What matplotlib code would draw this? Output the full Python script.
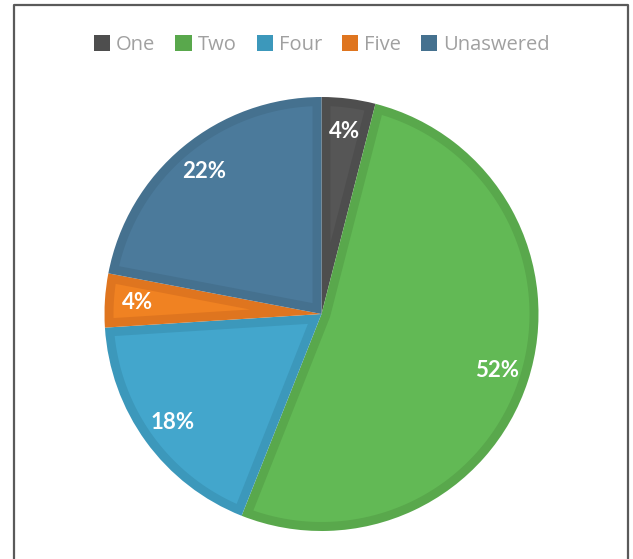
import numpy as np
import matplotlib
matplotlib.use("Agg")
import matplotlib.pyplot as plt
from matplotlib.patches import Patch, Polygon
from matplotlib.lines import Line2D

# data
labels = ["One", "Two", "Four", "Five", "Unaswered"]
shares = [4, 52, 18, 4, 22]
fill_colors = ["#565656", "#62b955", "#43a6cc", "#f08222", "#4b7a9b"]
edge_colors = ["#4e4e4e", "#59a84c", "#3c98bb", "#df751f", "#45718f"]

W, H = 633, 559
fig = plt.figure(figsize=(W / 100, H / 100), dpi=100)

# pie axes: centre ~ (321.5, 314) px, radius ~217 px
cx, cy, r = 321.5, 314, 217
ax = fig.add_axes([(cx - r) / W, (H - cy - r) / H, 2 * r / W, 2 * r / H])

# base layer: full slices in the darker rim colour
wedges, _, autotexts = ax.pie(
    shares, colors=edge_colors, startangle=90, counterclock=False,
    autopct="%d%%", pctdistance=0.85, radius=1,
    wedgeprops=dict(linewidth=0),
    textprops=dict(color="white", fontsize=16, fontweight="bold", family=["Lato", "DejaVu Sans"]),
)


def inner_slice(w, d):
    # slice shrunk inward by d (axes units) on all sides
    t1, t2 = np.radians(w.theta1), np.radians(w.theta2)
    a = t2 - t1
    rho = w.r - d
    da = np.arcsin(d / rho)
    tt = np.linspace(t1 + da, t2 - da, 120)
    arc = np.column_stack([rho * np.cos(tt), rho * np.sin(tt)])
    tip_r = d / np.sin(a / 2)
    tm = (t1 + t2) / 2
    tip = np.array([[tip_r * np.cos(tm), tip_r * np.sin(tm)]])
    return np.vstack([tip, arc])


rim = 9 / r
for w, fc in zip(wedges, fill_colors):
    ax.add_patch(Polygon(inner_slice(w, rim), closed=True, facecolor=fc,
                         edgecolor="none", zorder=w.get_zorder() + 0.5))
for t in autotexts:
    t.set_zorder(5)

ax.set_xlim(-1, 1)
ax.set_ylim(-1, 1)
ax.set_aspect("equal")

# legend
handles = [Patch(facecolor=c, edgecolor="none") for c in edge_colors]
fig.legend(handles, labels, ncol=5, frameon=False, loc="center",
           bbox_to_anchor=(322 / W, 1 - 45 / H),
           prop=dict(family=["Open Sans", "DejaVu Sans"], size=14.5),
           handlelength=0.8, handleheight=0.8, handletextpad=0.3,
           columnspacing=1.0, labelcolor="#a0a0a0", borderaxespad=0)

# outer frame (left, top, right - bottom runs off the image)
frame_kw = dict(color="#5a5a5a", linewidth=1.6, transform=fig.transFigure)
x0, x1, yt = 14 / W, 628 / W, 1 - 5 / H
fig.add_artist(Line2D([x0, x0, x1, x1], [-0.05, yt, yt, -0.05], **frame_kw))

fig.savefig("out.png", dpi=100)
